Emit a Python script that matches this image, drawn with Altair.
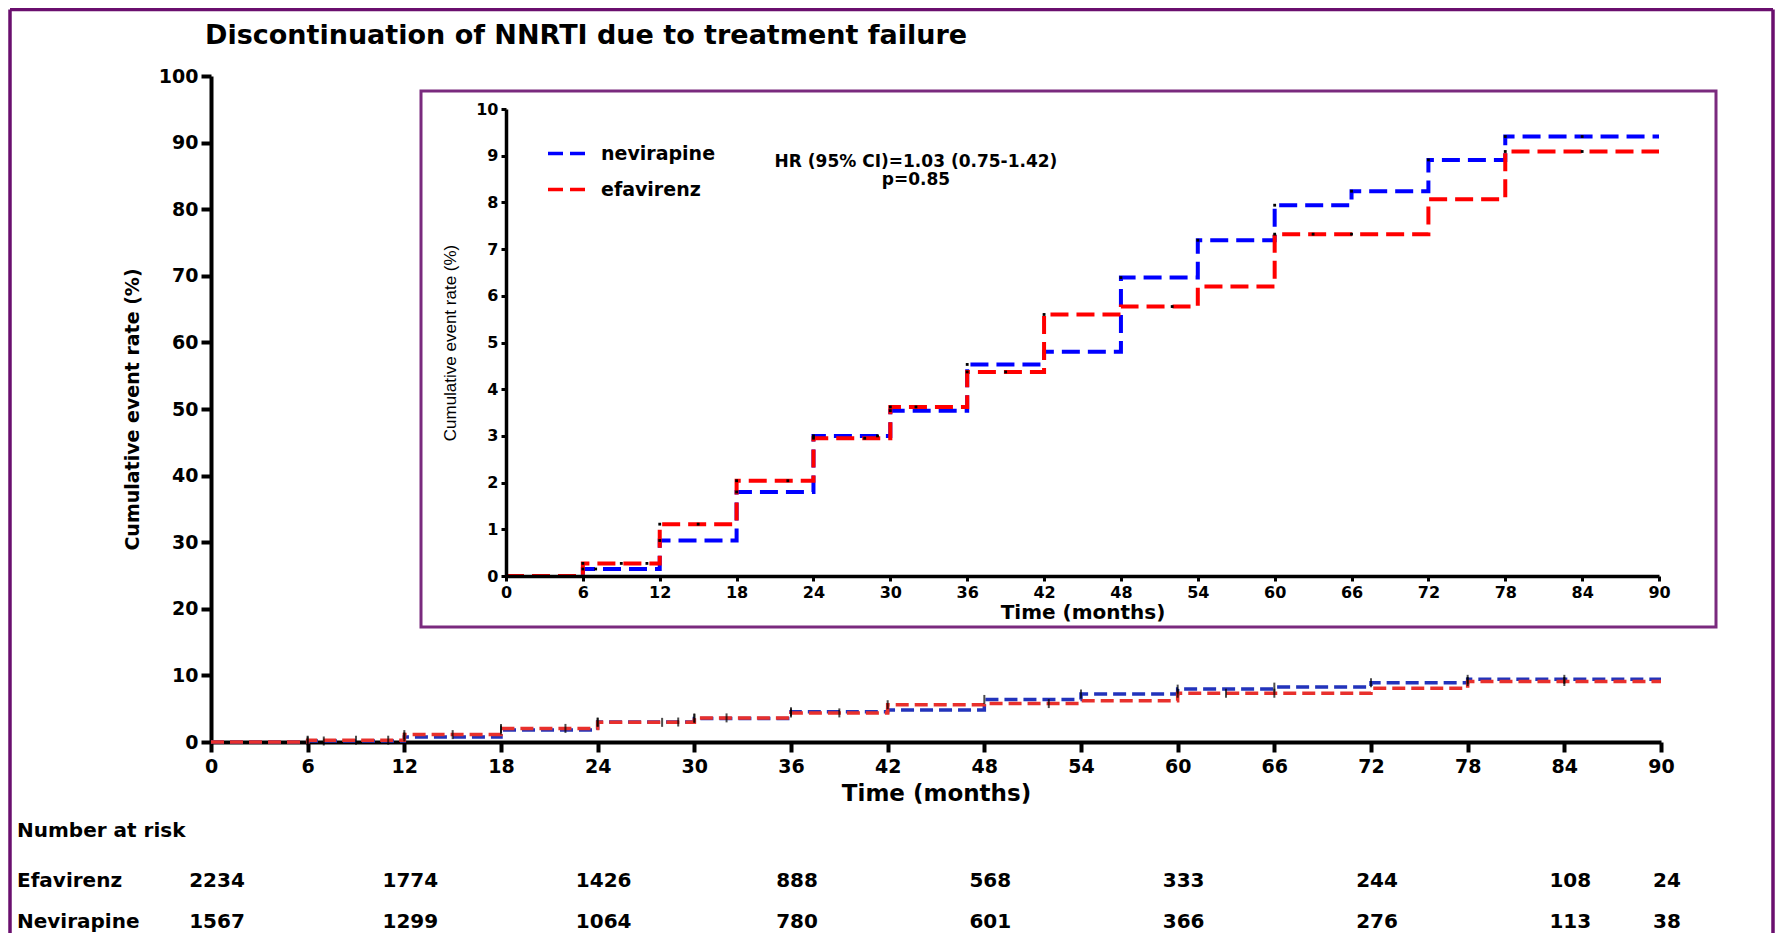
import altair as alt
import pandas as pd

# ---------------- data ----------------
series = ["nevirapine", "efavirenz"]
times = [0, 6, 12, 18, 24, 30, 36, 42, 48, 54, 60, 66, 72, 78, 90]
nevirapine = [0, 0.15, 0.76, 1.80, 3.00, 3.54, 4.53, 4.80, 6.39, 7.19, 7.94, 8.24, 8.91, 9.41, 9.41]
efavirenz = [0, 0.27, 1.11, 2.04, 2.95, 3.62, 4.37, 5.60, 5.77, 6.20, 7.32, 7.32, 8.07, 9.09, 9.09]

censor_nevirapine = [6, 7, 12, 18, 24, 29, 30, 36, 48, 54, 60, 66, 72, 78, 84]
censor_efavirenz = [6, 9, 11, 12, 15, 18, 22, 24, 28, 30, 32, 36, 39, 42, 52, 60, 63, 66, 78, 84]

risk_times = [0, 12, 24, 36, 48, 60, 72, 84, 90]
risk_efavirenz = [2234, 1774, 1426, 888, 568, 333, 244, 108, 24]
risk_nevirapine = [1567, 1299, 1064, 780, 601, 366, 276, 113, 38]

x_ticks = list(range(0, 91, 6))
main_y_ticks = list(range(0, 101, 10))
inset_y_ticks = list(range(0, 11))

title_text = "Discontinuation of NNRTI due to treatment failure"
hr_lines = ["HR (95% CI)=1.03 (0.75-1.42)", "p=0.85"]
y_title = "Cumulative event rate (%)"
x_title = "Time (months)"

# ---------------- tables ----------------
curve_df = pd.DataFrame({
    "time": times * 2,
    "rate": nevirapine + efavirenz,
    "group": ["nevirapine"] * len(times) + ["efavirenz"] * len(times),
})


def step_value(t, ts, vs):
    v = vs[0]
    for ti, vi in zip(ts, vs):
        if ti <= t:
            v = vi
    return v


censor_rows = []
for t in censor_nevirapine:
    censor_rows.append({"time": t, "rate": step_value(t, times, nevirapine), "group": "nevirapine"})
for t in censor_efavirenz:
    censor_rows.append({"time": t, "rate": step_value(t, times, efavirenz), "group": "efavirenz"})
censor_df = pd.DataFrame(censor_rows)

risk_e_df = pd.DataFrame({"time": risk_times, "n": risk_efavirenz})
risk_n_df = pd.DataFrame({"time": risk_times, "n": risk_nevirapine})
one = pd.DataFrame({"k": [0]})

FONT = "DejaVu Sans"
PURPLE = "#6A0F6E"

# ---------------- main chart ----------------
main_x = alt.X(
    "time:Q",
    title=x_title,
    scale=alt.Scale(domain=[0, 90], nice=False, zero=False),
    axis=alt.Axis(orient="bottom", values=x_ticks, labelFontSize=19, titleFontSize=23,
                  titlePadding=6, labelPadding=5, tickSize=10, tickWidth=4, domainWidth=4),
)
main_y = alt.Y(
    "rate:Q",
    title=y_title,
    scale=alt.Scale(domain=[0, 100], nice=False),
    axis=alt.Axis(orient="left", values=main_y_ticks, labelFontSize=19, titleFontSize=19,
                  titlePadding=16, labelPadding=3, tickSize=10, tickWidth=4, domainWidth=4),
)
main_color = alt.Color("group:N", scale=alt.Scale(domain=series, range=["#2233BB", "#E8302C"]), legend=None)

main_lines = alt.Chart(curve_df).mark_line(
    interpolate="step-after", strokeDash=[13, 6], strokeWidth=3.5
).encode(x=main_x, y=main_y, color=main_color)

main_censor = alt.Chart(censor_df).mark_tick(
    orient="vertical", size=9, thickness=2, color="black"
).encode(x=main_x, y=main_y)

risk_text_e = alt.Chart(risk_e_df).mark_text(
    font=FONT, fontWeight="bold", fontSize=20, align="center", baseline="middle", dx=6, color="black"
).encode(x=main_x, y=alt.value(805), text="n:Q")
risk_text_n = alt.Chart(risk_n_df).mark_text(
    font=FONT, fontWeight="bold", fontSize=20, align="center", baseline="middle", dx=6, color="black"
).encode(x=main_x, y=alt.value(846), text="n:Q")


def label(txt, y, size=20, x=-194):
    return alt.Chart(one).mark_text(
        font=FONT, fontWeight="bold", fontSize=size, align="left", baseline="middle", color="black"
    ).encode(x=alt.value(x), y=alt.value(y), text=alt.value(txt))


inset_box = alt.Chart(one).mark_rect(
    fill="white", fillOpacity=0, stroke="#7A2A7E", strokeWidth=3
).encode(x=alt.value(210), x2=alt.value(1505), y=alt.value(15), y2=alt.value(551))

outer_left = alt.Chart(one).mark_rule(color=PURPLE, strokeWidth=3.5).encode(
    x=alt.value(-201), y=alt.value(-66.5), y2=alt.value(860))
outer_top = alt.Chart(one).mark_rule(color=PURPLE, strokeWidth=3.5).encode(
    x=alt.value(-201), x2=alt.value(1562), y=alt.value(-66.5))
outer_right = alt.Chart(one).mark_rule(color=PURPLE, strokeWidth=3.5).encode(
    x=alt.value(1562), y=alt.value(-66.5), y2=alt.value(860))

main = alt.layer(
    outer_left, outer_top, outer_right, inset_box,
    main_lines, main_censor,
    label(title_text, -40, size=27, x=-6),
    label("Number at risk", 755), label("Efavirenz", 805), label("Nevirapine", 846),
    risk_text_e, risk_text_n,
)

# ---------------- inset chart ----------------
inset_x = alt.X(
    "time:Q",
    title=x_title,
    scale=alt.Scale(domain=[0, 90], range=[295, 1448], nice=False, zero=False),
    axis=alt.Axis(orient="bottom", offset=-166, values=x_ticks, labelFontSize=16, titleFontSize=20,
                  titlePadding=2, labelPadding=3, tickSize=5, tickWidth=3, domainWidth=3.5, zindex=1),
)
inset_y = alt.Y(
    "rate:Q",
    title=y_title,
    scale=alt.Scale(domain=[0, 10], range=[500, 33], nice=False),
    axis=alt.Axis(orient="left", offset=-295, values=inset_y_ticks, labelFontSize=16,
                  titleFontSize=17, titleFontWeight="normal", titleFont="Liberation Sans",
                  titlePadding=16, labelPadding=3, tickSize=5, tickWidth=3, domainWidth=3.5, zindex=1),
)
inset_color = alt.Color(
    "group:N",
    scale=alt.Scale(domain=series, range=["#0000FF", "#FF0000"]),
    legend=alt.Legend(
        orient="none", legendX=335, legendY=57, title=None, symbolType="stroke",
        symbolSize=1369, symbolStrokeWidth=3.5, symbolDash=[15, 7], labelFont=FONT,
        labelFontSize=19, labelFontWeight="bold", labelColor="black", labelOffset=14,
        rowPadding=5, padding=0,
    ),
)

inset_lines = alt.Chart(curve_df).mark_line(
    interpolate="step-after", strokeDash=[18, 8], strokeWidth=4
).encode(x=inset_x, y=inset_y, color=inset_color)

inset_censor = alt.Chart(censor_df).mark_point(
    shape="square", size=8, filled=True, color="black", opacity=1
).encode(x=inset_x, y=inset_y)

hr_text = alt.Chart(one).mark_text(
    font=FONT, fontWeight="bold", fontSize=17, lineHeight=18, align="center", baseline="middle", color="black"
).encode(x=alt.value(705), y=alt.value(86), text=alt.value(hr_lines))

inset = alt.layer(inset_lines, inset_censor, hr_text)

chart = alt.layer(main, inset).resolve_scale(
    x="independent", y="independent", color="independent"
).properties(
    width=1450,
    height=666,
    padding={"left": 203, "top": 68, "right": 115, "bottom": 191},
    autosize=alt.AutoSizeParams(type="none"),
    background="white",
).configure_view(stroke=None).configure_axis(
    grid=False, labelFont=FONT, labelFontWeight="bold", labelColor="black",
    titleFont=FONT, titleFontWeight="bold", titleColor="black",
    domainColor="black", tickColor="black", labelFlush=False, labelOverlap=False,
)

chart.save("out.html", embed_options={"renderer": "svg", "actions": False})
